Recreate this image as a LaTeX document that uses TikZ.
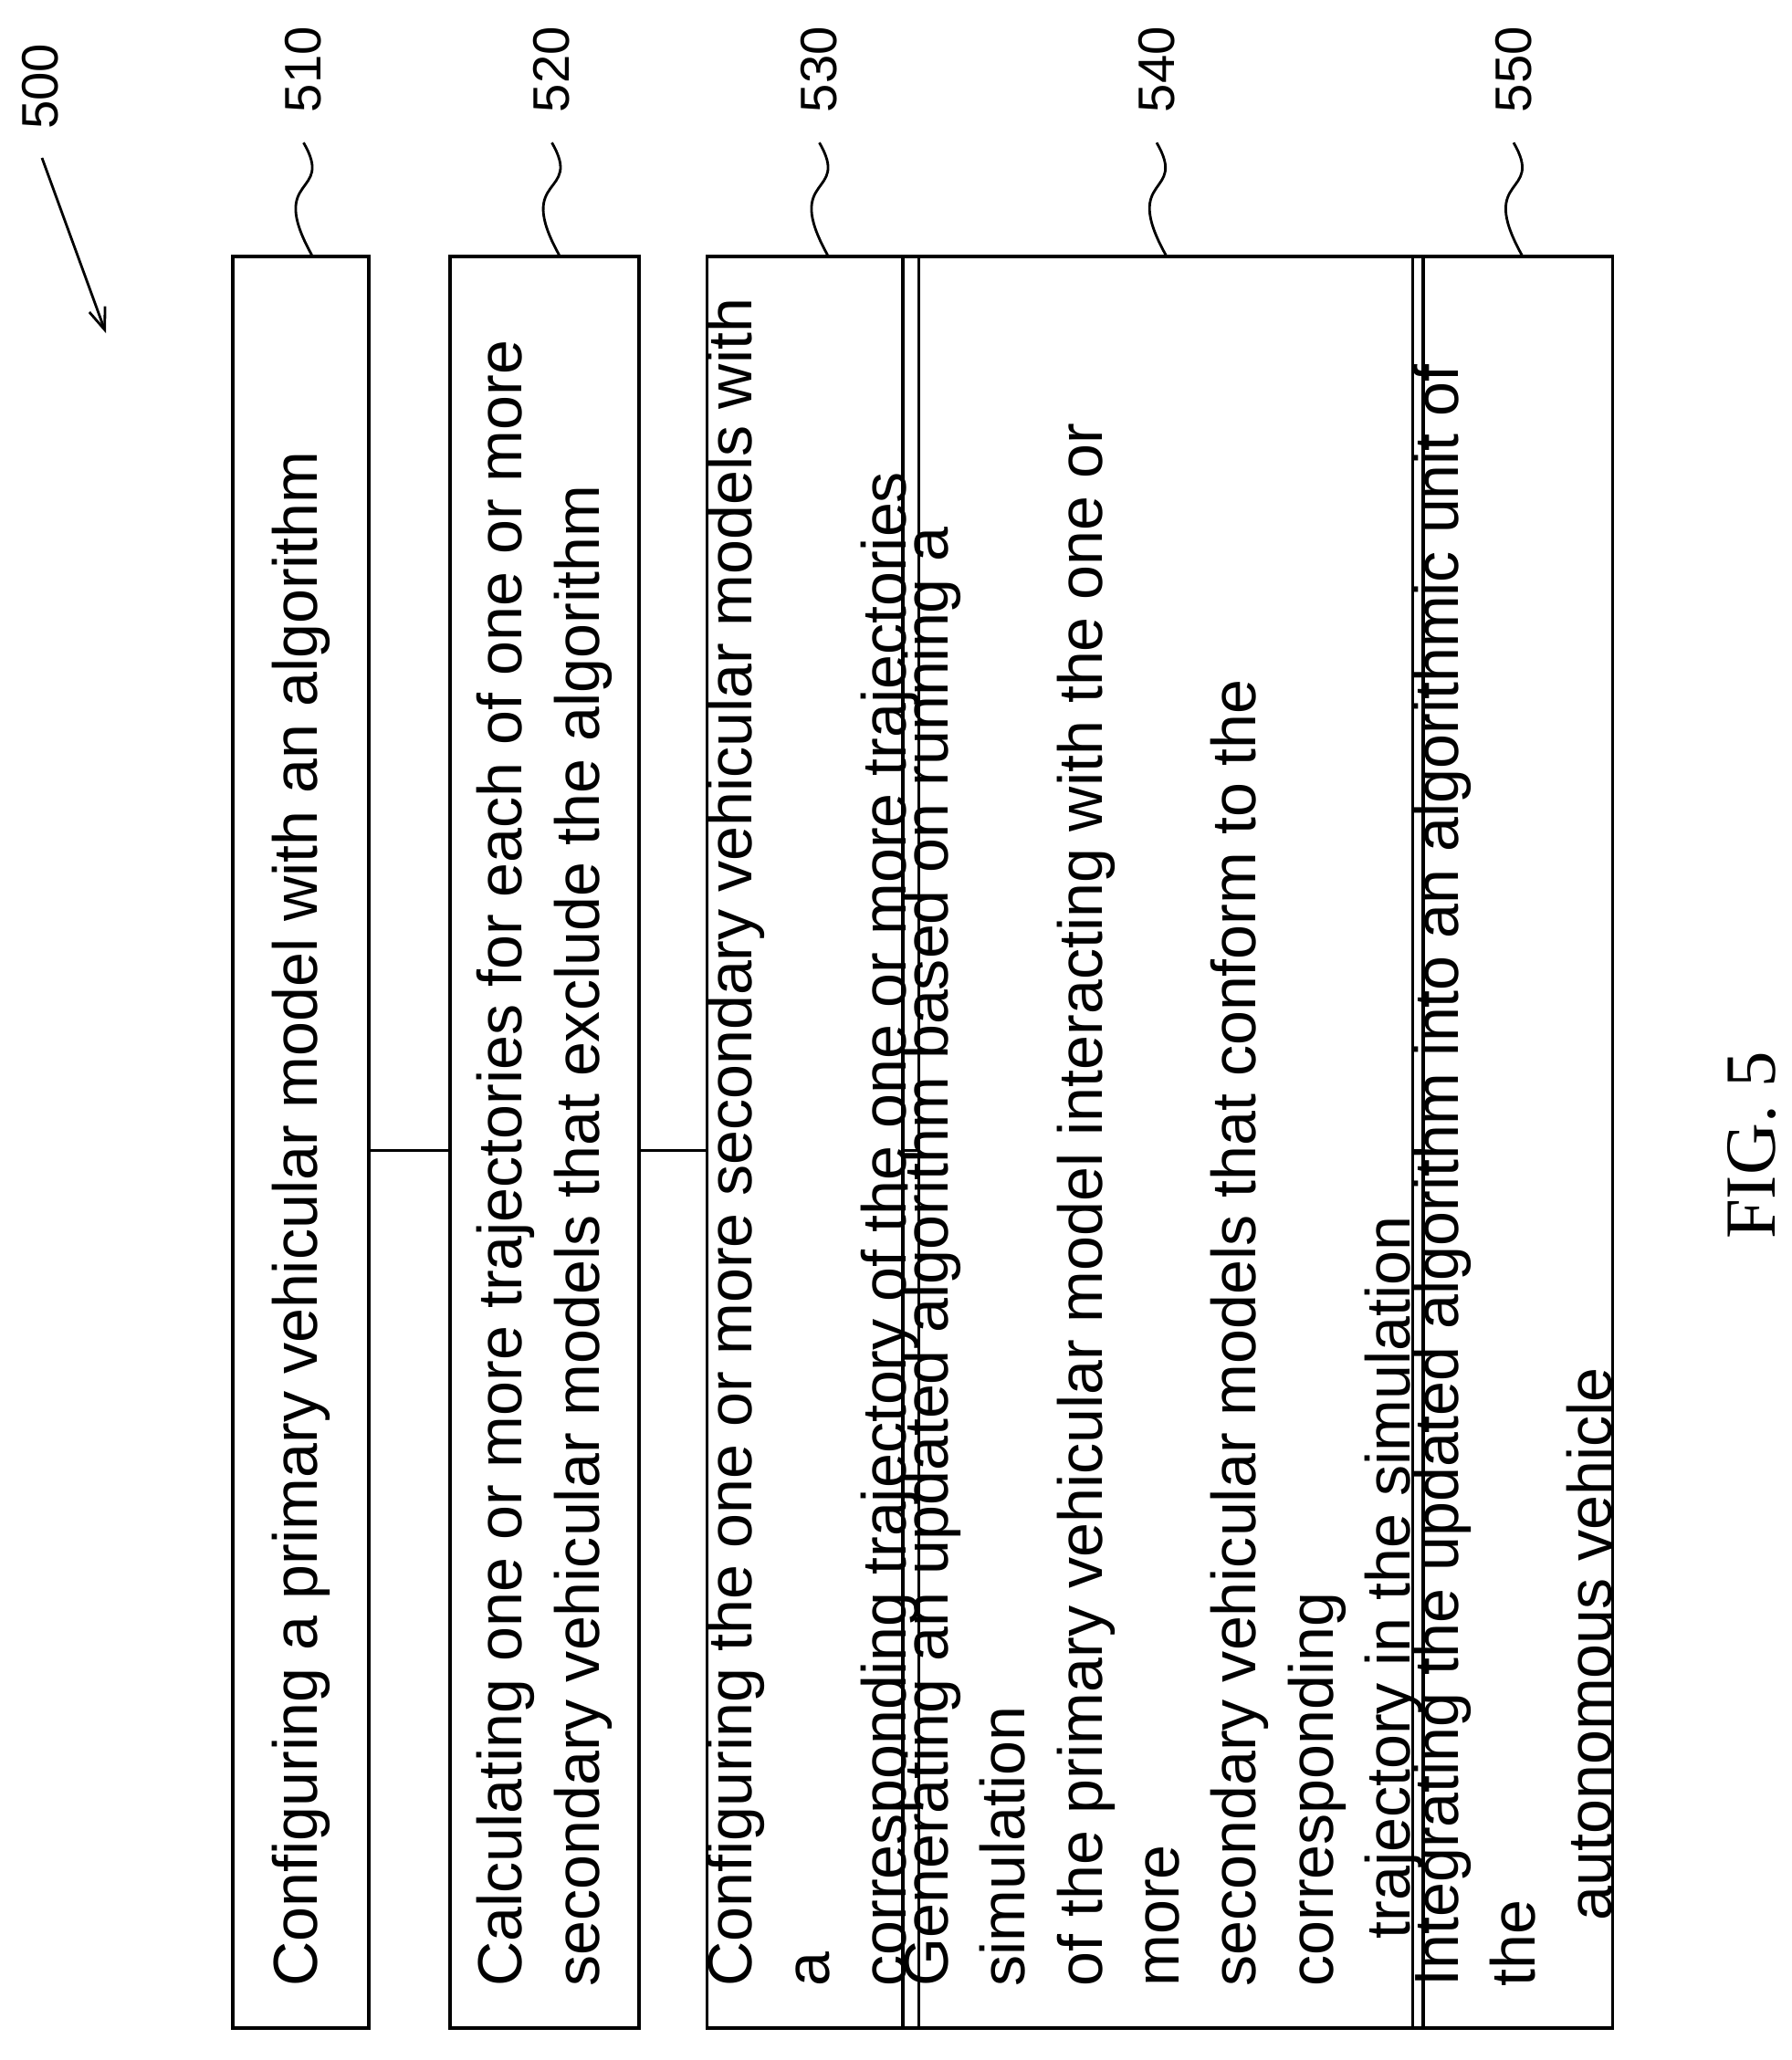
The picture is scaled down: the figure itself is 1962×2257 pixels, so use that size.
\documentclass[tikz,border=0pt]{standalone}
\usepackage{fontspec}
\setmainfont{Liberation Sans}
\newfontfamily\figfont{Liberation Serif}
\usetikzlibrary{calc, arrows.meta}
\tikzset{
	stepbox/.style={rectangle, draw=black, line width=5pt, minimum height=97.05cm, inner sep=0pt,
				font=\fontsize{97}{120}\selectfont
				},
	reflabel/.style={rotate=90, font=\fontsize{80}{88}\selectfont, inner sep=0pt
				},
	squiggle/.style={line width=4pt
				},
	joinline/.style={line width=4pt
				}
	}
\newcommand\steptext[1]{\rotatebox{90}{\parbox{92.5cm}{\raggedright #1}}}

\begin{document}
\begin{tikzpicture}[x=0.05cm, y=-0.05cm]
				\useasboundingbox (0,0) rectangle (1962,2257);

				\node[stepbox, minimum width=7.45cm] (s510) at (329.5,1251.5)
				{\steptext{Configuring a primary vehicular model with an algorithm}};
				\node[stepbox, minimum width=10.35cm] (s520) at (596.5,1251.5)
				{\steptext{Calculating one or more trajectories for each of one or more\\ secondary vehicular models that exclude the algorithm}};
				\node[stepbox, minimum width=10.25cm] (s530) at (890.5,1251.5)
				{\steptext{Configuring the one or more secondary vehicular models with a\\ corresponding trajectory of the one or more trajectories}};
				\node[stepbox, minimum width=19.2cm] (s540) at (1274,1251.5)
				{\steptext{Generating an updated algorithm based on running a simulation\\ of the primary vehicular model interacting with the one or more\\ secondary vehicular models that conform to the corresponding\\ \hspace*{2.6cm}trajectory in the simulation}};
				\node[stepbox, minimum width=10.3cm] (s550) at (1657,1251.5)
				{\steptext{Integrating the updated algorithm into an algorithmic unit of the\\ \hspace*{3.6cm}autonomous vehicle}};

				% connectors between the steps
				\draw[joinline] ($(s510.east)+(0,9)$) -- ($(s520.west)+(0,9)$);
				\draw[joinline] ($(s520.east)+(0,9)$) -- ($(s530.west)+(0,9)$);
				\draw[joinline] ($(s530.east)+(0,9)$) -- ($(s540.west)+(0,9)$);
				\draw[joinline] ($(s540.east)+(0,9)$) -- ($(s550.west)+(0,9)$);

				% reference numerals
				\coordinate (b510) at ($(s510.north)+(12,0)$);
				\coordinate (t510) at ($(b510)+(-9,-123)$);
				\node[reflabel] (n510) at ($(t510)+(0,-80)$) {510};
				\draw[squiggle] (b510) .. controls +(-50,-90) and +(35,60) .. (t510);

				\coordinate (b520) at ($(s520.north)+(16,0)$);
				\coordinate (t520) at ($(b520)+(-8,-123)$);
				\node[reflabel] (n520) at ($(t520)+(0,-80)$) {520};
				\draw[squiggle] (b520) .. controls +(-50,-90) and +(35,60) .. (t520);

				\coordinate (b530) at ($(s530.north)+(16,0)$);
				\coordinate (t530) at ($(b530)+(-9,-123)$);
				\node[reflabel] (n530) at ($(t530)+(0,-80)$) {530};
				\draw[squiggle] (b530) .. controls +(-50,-90) and +(35,60) .. (t530);

				\coordinate (b540) at ($(s540.north)+(3,0)$);
				\coordinate (t540) at ($(b540)+(-10,-123)$);
				\node[reflabel] (n540) at ($(t540)+(0,-80)$) {540};
				\draw[squiggle] (b540) .. controls +(-50,-90) and +(35,60) .. (t540);

				\coordinate (b550) at ($(s550.north)+(10,0)$);
				\coordinate (t550) at ($(b550)+(-9,-123)$);
				\node[reflabel] (n550) at ($(t550)+(0,-80)$) {550};
				\draw[squiggle] (b550) .. controls +(-50,-90) and +(35,60) .. (t550);

				\node[reflabel] (n500) at (44,95) {500};
				\coordinate (a500) at (46,173);
				\coordinate (h500) at (116,365);
				\draw[squiggle, -{Straight Barb[length=34pt, width=26pt]}] (a500) -- (h500);

				\node[rotate=90, font=\figfont\fontsize{112}{120}\selectfont] (fig) at (1919,1255) {FIG. 5};
\end{tikzpicture}
\end{document}
